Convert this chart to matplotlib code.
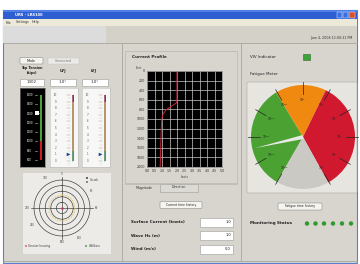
import matplotlib
matplotlib.use('Agg')
import matplotlib.pyplot as plt
from matplotlib.patches import Rectangle, Wedge, Polygon, FancyBboxPatch, Circle
import numpy as np

# ---------------- data ----------------
window_title = "URS - LRS100"
menu_items = ["File", "Settings", "Help"]
timestamp = "June 4, 2008 12:00:31 PM"

tension_ticks = [1500, 1400, 1300, 1200, 1100, 1000, 900, 800]
tension_value = 1302
tension_zone_bounds = [800, 1000, 1500]          # red below 1000, green above

joint_ticks = [10, 9, 8, 7, 6, 5, 4, 3, 2, 1, 0]
ufj_value = 1.0
lfj_value = 1.0
joint_zone_bounds = [0, 1.5, 9, 10]               # green / orange / red

depth_ft = [0, 200, 400, 600, 660, 740, 810, 910, 1010, 1200, 1400, 1600, 1800, 2000]
speed_kn = [2.0, 2.0, 2.0, 2.0, 1.98, 1.6, 1.27, 1.05, 0.99, 0.95, 0.93, 0.91, 0.9, 0.88]
profile_xticks = [0.0, 0.5, 1.0, 1.5, 2.0, 2.5, 3.0, 3.5, 4.0, 4.5, 5.0]
profile_yticks = [0, 200, 400, 600, 800, 1000, 1200, 1400, 1600, 1800, 2000]

env_labels = ["Surface Current (knots)", "Wave Hs (m)", "Wind (m/s)"]
env_values = [1.0, 1.0, 0.0]

polar_rings = [1, 2, 3, 4, 5]
polar_label_deg = [0, 60, 90, 150, 180, 240, 270, 330]
polar_offset_radius = 2.3

fatigue_zone_edges = [210, 329, 386, 511, 570]   # compass degrees, clockwise
fatigue_needle_deg = 257
fatigue_tick_deg = [210, 240, 270, 300, 330, 360, 390, 420, 450, 480, 510]
fatigue_tick_exp = [-5, -4, -3, -2, -1, 0, 1, 2, 3, 4, 5]

monitor_status = [1, 1, 1, 1, 1, 1]

# ---------------- colours ----------------
GREEN = '#4ba232'
ORANGE = '#f0890f'
RED = '#d0192f'
GREYZ = '#cbc9c3'
PANEL = '#d7d5ce'
EDGE = '#a9a69e'

W, H = 360, 264
fig = plt.figure(figsize=(3.6, 2.64), dpi=100)
fig.patch.set_facecolor('white')


def px_axes(x0, y0, x1, y1, **kw):
    return fig.add_axes([x0 / W, 1 - y1 / H, (x1 - x0) / W, (y1 - y0) / H], **kw)


base = px_axes(0, 0, W, H)
base.set_xlim(0, W)
base.set_ylim(H, 0)
base.axis('off')


def rect(x0, y0, x1, y1, fc, ec='none', lw=0.5, z=1, rounded=False):
    if rounded:
        p = FancyBboxPatch((x0, y0), x1 - x0, y1 - y0, boxstyle='round,pad=0,rounding_size=1.2',
                           fc=fc, ec=ec, lw=lw, zorder=z)
    else:
        p = Rectangle((x0, y0), x1 - x0, y1 - y0, fc=fc, ec=ec, lw=lw, zorder=z)
    base.add_patch(p)


def txt(x, y, s, size=3.0, color='#222222', ha='left', va='center', weight='normal', z=5):
    base.text(x, y, s, fontsize=size, color=color, ha=ha, va=va, fontweight=weight, zorder=z)


# window frame
rect(3, 10, 357, 263, PANEL, ec='#5a7fd0', lw=0.8)
# title bar
rect(3, 10, 357, 19, '#2d5fd3')
rect(3, 10, 357, 12, '#4f80e6')
txt(15, 14.5, window_title, size=2.6, color='white', weight='bold')
rect(337, 12, 342, 17.5, '#3c70e0', ec='white', lw=0.3)
rect(343, 12, 348, 17.5, '#3c70e0', ec='white', lw=0.3)
rect(349, 12, 355, 17.5, '#d9502c', ec='white', lw=0.3)
# menu bar
rect(3, 19, 357, 26, '#ece9d8')
for x, m in zip([6, 16, 32], menu_items):
    txt(x, 22.5, m, size=2.4, color='#333333')
# toolbar
rect(3, 26, 106, 43, '#dcdcdc')
rect(106, 26, 357, 43, '#d4d1c9')
txt(352, 38, timestamp, size=2.3, color='#333333', ha='right')
# panel separators
base.plot([3, 357], [43, 43], color=EDGE, lw=0.6, zorder=2)
base.plot([122, 122], [43, 261], color=EDGE, lw=0.6, zorder=2)
base.plot([241, 241], [43, 261], color=EDGE, lw=0.6, zorder=2)
base.plot([3, 357], [261, 261], color=EDGE, lw=0.6, zorder=2)

# ---------------- left panel ----------------
rect(20, 57.5, 43, 64, '#f5f4ef', ec='#8c8c8c', lw=0.4, rounded=True)
txt(31.5, 60.8, 'Mode', size=2.4, ha='center')
rect(48, 57.5, 79, 64, '#ebeae6', ec='#c8c6c0', lw=0.3)
txt(63.5, 60.8, 'Connected', size=2.3, ha='center', color='#777777')

txt(32, 70.5, 'Top Tension\n(kips)', size=2.3, ha='center', weight='bold')
txt(62.5, 71, 'UFJ', size=2.5, ha='center', weight='bold')
txt(94, 71, 'LFJ', size=2.5, ha='center', weight='bold')

for (x0, x1), s in zip([(20, 44), (50, 76), (82, 108)],
                       ['%d' % tension_value, '%.1f°' % ufj_value, '%.1f°' % lfj_value]):
    rect(x0, 78.5, x1, 86, 'white', ec='#9a9a9a', lw=0.4)
    txt((x0 + x1) / 2, 82.4, s, size=2.8, ha='center')

# tension gauge
ga = px_axes(20, 88, 45, 167)
ga.set_facecolor('black')
ga.set_xlim(0, 1)
ga.set_ylim(725, 1575)
ga.set_xticks([])
ga.set_yticks([])
for s in ga.spines.values():
    s.set_color('#777777')
    s.set_linewidth(0.5)
ga.bar(0.84, tension_zone_bounds[1] - tension_zone_bounds[0], bottom=tension_zone_bounds[0],
       width=0.1, color=RED)
ga.bar(0.84, tension_zone_bounds[2] - tension_zone_bounds[1], bottom=tension_zone_bounds[1],
       width=0.1, color=GREEN)
for t in tension_ticks:
    ga.text(0.38, t, str(t), fontsize=1.9, color='white', ha='center', va='center')
    ga.plot([0.6, 0.68], [t, t], color='#cccccc', lw=0.4)
ga.plot([0.66], [tension_value], marker='s', ms=2.2, color='white', mew=0)
ga.plot([0.72], [tension_value], marker='>', ms=2.0, color='white', mew=0)

# joint gauges
for (x0, x1), val in zip([(50, 78), (82, 110)], [ufj_value, lfj_value]):
    ja = px_axes(x0, 88, x1, 167)
    ja.set_facecolor('#f7f7f5')
    ja.set_xlim(0, 1)
    ja.set_ylim(-0.9, 11.06)
    ja.set_xticks([])
    ja.set_yticks([])
    for s in ja.spines.values():
        s.set_color('#bdbdbd')
        s.set_linewidth(0.4)
    cols = [GREEN, ORANGE, RED]
    for i in range(3):
        ja.bar(0.82, joint_zone_bounds[i + 1] - joint_zone_bounds[i], bottom=joint_zone_bounds[i],
               width=0.1, color=cols[i])
    ja.plot([0.77, 0.77], [0, 10], color='#8aa0c0', lw=0.4)
    for t in joint_ticks:
        ja.text(0.2, t, str(t), fontsize=1.9, color='#555555', ha='center', va='center')
        ja.plot([0.6, 0.72], [t, t], color='#9a9a9a', lw=0.35)
        ja.plot([0.66, 0.72], [t - 0.5, t - 0.5], color='#bbbbbb', lw=0.3)
    ja.plot([0.66], [val], marker='>', ms=2.6, color='#1f3f8f', mew=0)

# polar panel
rect(22, 172, 111, 254, '#ecebe8', ec='#d0cec8', lw=0.4)
R = 36
pa = px_axes(62 - R, 208 - R, 62 + R, 208 + R, projection='polar')
pa.set_facecolor('none')
pa.set_theta_zero_location('N')
pa.set_theta_direction(-1)
pa.set_ylim(0, 6.43)
pa.set_xticks([])
pa.set_yticks([])
pa.grid(False)
pa.spines['polar'].set_visible(False)
th = np.linspace(0, 2 * np.pi, 200)
for r in polar_rings:
    pa.plot(th, np.full_like(th, r), color='#333333', lw=0.45)
for a in [0, 90]:
    ar = np.radians(a)
    pa.plot([ar, ar + np.pi], [5.6, 5.6], color='#333333', lw=0.45)
pa.plot(th, np.full_like(th, polar_offset_radius), color='#e6cf6a', lw=0.7, ls=(0, (2, 1)))
pa.plot([0], [0], marker='o', ms=1.8, color='#c0306a', mew=0)
for a in polar_label_deg:
    pa.text(np.radians(a), 6.15, str(a), fontsize=1.9, color='#444444', ha='center', va='center')
base.add_patch(Rectangle((86, 177), 2.2, 2.2, fc='#666666', zorder=5))
base.add_patch(Rectangle((86, 180.5), 2.2, 2.2, fc='#888888', zorder=5))
txt(90, 180, 'Gb-wb', size=2.0, color='#444444')
base.plot([26], [246], marker='s', ms=1.6, color='#e08080', mew=0, zorder=5)
txt(28.5, 246, 'Greater housing', size=2.0, color='#444444')
base.plot([86], [246], marker='s', ms=1.6, color='#70b070', mew=0, zorder=5)
txt(88.5, 246, 'Wellbore', size=2.0, color='#444444')

# ---------------- middle panel ----------------
rect(125, 51, 237, 183, 'none', ec='#b9b6ae', lw=0.5, z=2)
txt(132, 57.5, 'Current Profile', size=3.0, weight='bold')
txt(139, 68, 'Feet', size=2.2, color='#444444', ha='center')

ca = px_axes(147, 71, 222, 167)
ca.set_facecolor('black')
ca.set_xlim(0, 5)
ca.set_ylim(2000, 0)
ca.set_xticks(profile_xticks)
ca.set_yticks(profile_yticks)
ca.set_xticklabels(['%.1f' % v for v in profile_xticks])
ca.grid(True, color='#c8c8c8', lw=0.5)
ca.tick_params(labelsize=2.3, length=0, pad=1.2, colors='#333333')
for s in ca.spines.values():
    s.set_color('#888888')
    s.set_linewidth(0.5)
ca.plot(speed_kn, depth_ft, color='#d0203a', lw=0.7)
txt(184.5, 177.5, 'knots', size=2.2, color='#444444', ha='center')

base.plot([125, 237], [183.5, 183.5], color='#b9b6ae', lw=0.5, zorder=2)
txt(144, 187.5, 'Magnitude', size=2.3, ha='center', color='#333333')
rect(160, 183.5, 198, 191.5, '#dcdad4', ec='#9c9a94', lw=0.4)
txt(179, 187.5, 'Direction', size=2.3, ha='center', color='#333333')

rect(160, 201.5, 202, 208.5, '#f5f4ef', ec='#8c8c8c', lw=0.4, rounded=True)
txt(181, 205, 'Current time history', size=2.2, ha='center')

for i, (lab, v) in enumerate(zip(env_labels, env_values)):
    y = 222 + i * 13.5
    txt(131, y, lab, size=2.9, weight='bold', color='#222222')
    rect(200, y - 4.5, 233, y + 4.5, 'white', ec='#9a9a9a', lw=0.4)
    txt(231, y, '%.1f' % v, size=2.6, ha='right')

# ---------------- right panel ----------------
txt(250, 57, 'VIV Indicator', size=2.9)
rect(303, 53.5, 309.5, 60, '#3da23a', ec='#2a6a2a', lw=0.4)
txt(250, 74.5, 'Fatigue Meter', size=2.9)
rect(247, 82, 357, 193, '#e7e5e0', ec='#b6b3ab', lw=0.5, rounded=True)

fa = px_axes(303 - 57, 137 - 57, 303 + 57, 137 + 57)
fa.set_xlim(-57, 57)
fa.set_ylim(-57, 57)
fa.axis('off')
fa.patch.set_alpha(0)
Rg = 52
zone_cols = [GREEN, ORANGE, RED, GREYZ]
for i, c in enumerate(zone_cols):
    c1, c2 = fatigue_zone_edges[i], fatigue_zone_edges[i + 1]
    fa.add_patch(Wedge((0, 0), Rg, 90 - c2, 90 - c1, fc=c, ec='none'))
for c, e in zip(fatigue_tick_deg, fatigue_tick_exp):
    a = np.radians(90 - c)
    fa.plot([0.82 * Rg * np.cos(a), 1.05 * Rg * np.cos(a)],
            [0.82 * Rg * np.sin(a), 1.05 * Rg * np.sin(a)], color='#222222', lw=0.5)
    lab = '$10^{%d}$' % e
    fa.text(0.7 * Rg * np.cos(a), 0.7 * Rg * np.sin(a), lab, fontsize=2.2, color='#222222',
            ha='center', va='center')
na = np.radians(90 - fatigue_needle_deg)
perp = na + np.pi / 2
tip = (0.95 * Rg * np.cos(na), 0.95 * Rg * np.sin(na))
b1 = (2.0 * np.cos(perp), 2.0 * np.sin(perp))
b2 = (-2.0 * np.cos(perp), -2.0 * np.sin(perp))
fa.add_patch(Polygon([b1, tip, b2], closed=True, fc='#e8e8e6', ec='none'))

rect(278, 203, 322, 210, '#f5f4ef', ec='#8c8c8c', lw=0.4, rounded=True)
txt(300, 206.5, 'Fatigue time history', size=2.2, ha='center')

txt(250, 223, 'Monitoring Status', size=3.0, weight='bold')
xs = [307, 315.5, 324, 333, 342, 351]
for x, s in zip(xs, monitor_status):
    base.add_patch(Circle((x, 223.5), 2.2, fc='#2f9a2f' if s else '#999999', ec='none', zorder=5))

fig.savefig('out.png', dpi=100, facecolor=fig.get_facecolor())
